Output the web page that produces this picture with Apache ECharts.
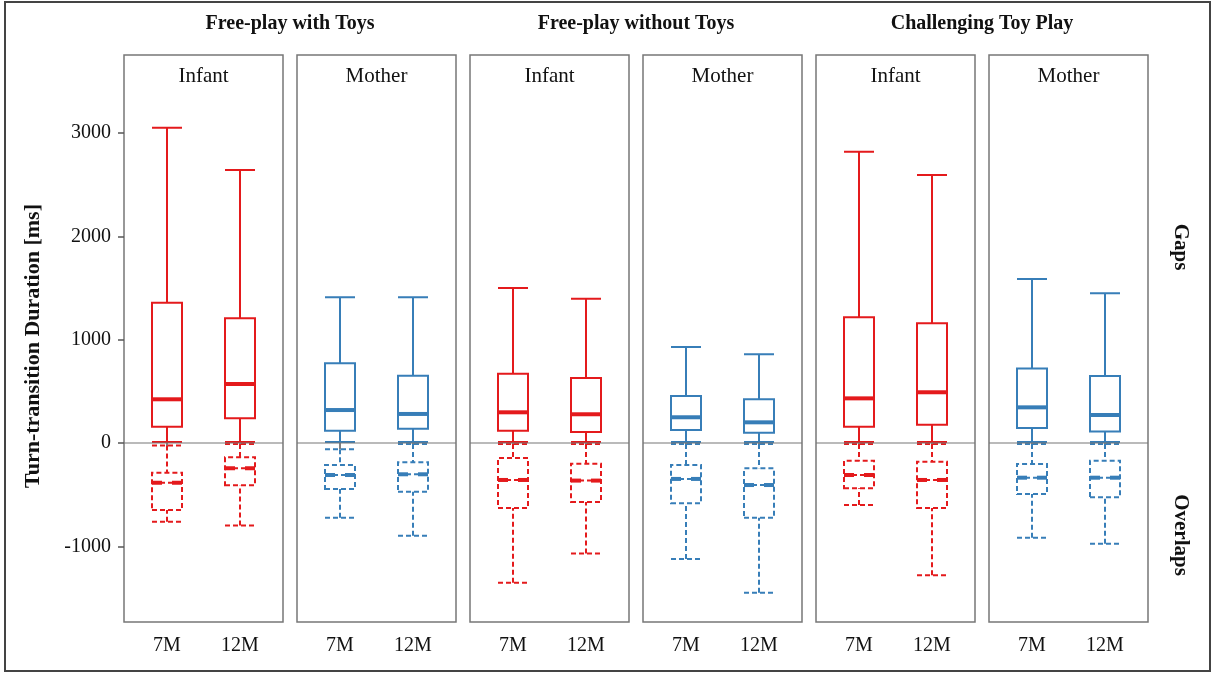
<!DOCTYPE html>
<html>
<head>
<meta charset="utf-8">
<script src="https://cdn.jsdelivr.net/npm/echarts@6/dist/echarts.min.js"></script>
<style>
html, body { margin: 0; padding: 0; background: #fff; }
#main { width: 1212px; height: 673px; }
</style>
</head>
<body>
<div id="main"></div>
<script>
const conditions = ['Free-play with Toys', 'Free-play without Toys', 'Challenging Toy Play'];
const speakers = ['Infant', 'Mother'];
const ages = ['7M', '12M'];
const yTicks = [-1000, 0, 1000, 2000, 3000];

// [lower whisker, Q1, median, Q3, upper whisker], 7M then 12M, one entry per panel
const gaps = [
    [[10, 158, 423, 1358, 3052], [10, 239, 571, 1207, 2643]],
    [[10, 119, 319, 772, 1410], [10, 138, 281, 652, 1410]],
    [[10, 119, 297, 671, 1500], [10, 106, 278, 629, 1397]],
    [[10, 126, 249, 455, 929], [10, 100, 200, 423, 860]],
    [[10, 158, 432, 1217, 2820], [10, 177, 491, 1159, 2594]],
    [[10, 145, 345, 720, 1588], [10, 110, 271, 649, 1449]]
];
const overlaps = [
    [[-762, -649, -384, -287, -25], [-800, -410, -245, -138, -10]],
    [[-723, -445, -310, -213, -61], [-897, -471, -303, -187, -10]],
    [[-1352, -629, -358, -145, -10], [-1071, -571, -364, -200, -10]],
    [[-1123, -584, -348, -213, -10], [-1449, -723, -407, -245, -10]],
    [[-600, -439, -310, -171, -10], [-1280, -630, -358, -181, -10]],
    [[-917, -494, -336, -203, -10], [-975, -526, -336, -171, -10]]
];
const colors = { Infant: '#E41A1C', Mother: '#377EB8' };

const serif = '"Liberation Serif", "Times New Roman", serif';
const panelLeft = 124, panelStep = 173, panelWidth = 159, panelTop = 55, panelHeight = 567;
const inner = 6.5;
const yMin = -1733, yMax = 3756;

const myChart = echarts.init(document.getElementById('main'));

function medianRenderer(color, dashed) {
    return function (params, api) {
        const c = api.coord([api.value(0), api.value(1)]);
        return {
            type: 'line',
            shape: { x1: c[0] - 15, y1: c[1], x2: c[0] + 15, y2: c[1] },
            style: { stroke: color, lineWidth: 4, lineDash: dashed ? [10, 10] : null }
        };
    };
}

function textStyle(text, font) {
    return { text: text, font: font, fill: '#111', textAlign: 'center', textVerticalAlign: 'middle', align: 'center', verticalAlign: 'middle' };
}

let grid = [], xAxis = [], yAxis = [], series = [], graphic = [];

for (let p = 0; p < 6; p++) {
    const left = panelLeft + p * panelStep;
    const who = speakers[p % 2];
    const color = colors[who];
    const fi = 3 * p, gi = 3 * p + 1, oi = 3 * p + 2;

    // frame grid (panel border + zero line + y axis)
    grid.push({ left: left, top: panelTop, width: panelWidth, height: panelHeight, show: true, borderColor: '#777', borderWidth: 1.5, backgroundColor: 'transparent' });
    xAxis.push({ type: 'value', gridIndex: fi, min: 0, max: 1, show: false });
    yAxis.push({
        type: 'value', gridIndex: fi, min: yMin, max: yMax, show: p === 0,
        axisLine: { show: false },
        splitLine: { show: false },
        axisTick: { show: true, customValues: yTicks, length: 6, lineStyle: { color: '#555', width: 1.5 } },
        axisLabel: { customValues: yTicks, fontSize: 20, fontFamily: serif, color: '#111', margin: 13, formatter: v => String(v) }
    });

    // gaps grid
    grid.push({ left: left + inner, top: panelTop, width: panelWidth - 2 * inner, height: panelHeight, show: false });
    xAxis.push({
        type: 'category', gridIndex: gi, data: ages,
        axisLine: { show: false },
        axisTick: { show: true, alignWithLabel: true, length: 6, lineStyle: { color: '#555', width: 1.5 } },
        axisLabel: { fontSize: 20, fontFamily: serif, color: '#111', margin: 14 }
    });
    yAxis.push({ type: 'value', gridIndex: gi, min: yMin, max: yMax, show: false });

    // overlaps grid (same geometry)
    grid.push({ left: left + inner, top: panelTop, width: panelWidth - 2 * inner, height: panelHeight, show: false });
    xAxis.push({ type: 'category', gridIndex: oi, data: ages, show: false });
    yAxis.push({ type: 'value', gridIndex: oi, min: yMin, max: yMax, show: false });

    series.push({
        type: 'line', xAxisIndex: fi, yAxisIndex: fi, data: [[0, 0], [1, 0]],
        symbol: 'none', silent: true, lineStyle: { color: '#777', width: 1.2 }
    });
    series.push({
        type: 'boxplot', xAxisIndex: gi, yAxisIndex: gi, data: gaps[p], boxWidth: [30, 30],
        itemStyle: { color: 'transparent', borderColor: color, borderWidth: 2 }, silent: true
    });
    series.push({
        type: 'boxplot', xAxisIndex: oi, yAxisIndex: oi, data: overlaps[p], boxWidth: [30, 30],
        itemStyle: { color: 'transparent', borderColor: color, borderWidth: 2, borderType: [5, 3] }, silent: true
    });
    series.push({
        type: 'custom', xAxisIndex: gi, yAxisIndex: gi, silent: true,
        data: gaps[p].map((d, i) => [i, d[2]]),
        renderItem: medianRenderer(color, false)
    });
    series.push({
        type: 'custom', xAxisIndex: oi, yAxisIndex: oi, silent: true,
        data: overlaps[p].map((d, i) => [i, d[2]]),
        renderItem: medianRenderer(color, true)
    });

    graphic.push({ type: 'text', x: left + panelWidth / 2, y: 76, style: textStyle(who, '21px ' + serif) });
}

conditions.forEach((c, i) => {
    const cx = panelLeft + 2 * i * panelStep + (panelStep + panelWidth) / 2;
    graphic.push({ type: 'text', x: cx, y: 24, style: textStyle(c, 'bold 20px ' + serif) });
});

graphic.push({ type: 'text', x: 33, y: 346, rotation: Math.PI / 2, style: textStyle('Turn-transition Duration [ms]', 'bold 22px ' + serif) });
graphic.push({ type: 'text', x: 1180, y: 247, rotation: -Math.PI / 2, style: textStyle('Gaps', 'bold 21px ' + serif) });
graphic.push({ type: 'text', x: 1180, y: 535, rotation: -Math.PI / 2, style: textStyle('Overlaps', 'bold 21px ' + serif) });
graphic.push({
    type: 'rect', shape: { x: 5, y: 2, width: 1205, height: 669 }, silent: true,
    style: { fill: 'none', stroke: '#444', lineWidth: 2 }
});

let option = {
    animation: false,
    backgroundColor: '#fff',
    grid: grid,
    xAxis: xAxis,
    yAxis: yAxis,
    series: series,
    graphic: graphic
};
myChart.setOption(option);
</script>
</body>
</html>
